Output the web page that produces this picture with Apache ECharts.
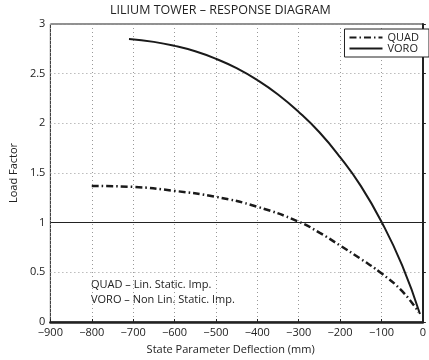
<!DOCTYPE html>
<html><head><meta charset="utf-8">
<script src="https://cdn.jsdelivr.net/npm/echarts@6/dist/echarts.min.js"></script>
<style>html,body{margin:0;padding:0;background:#fff}#c{width:429px;height:360px}</style>
</head><body><div id="c"></div>
<script>
const quadX = [-800, -700, -600, -500, -400, -300, -250, -200, -150, -100, -50, -10];
const quadY = [1.37, 1.36, 1.32, 1.26, 1.16, 1.01, 0.90, 0.77, 0.635, 0.49, 0.31, 0.10];
const voroX = [-710, -650, -600, -550, -500, -450, -400, -350, -300, -250, -200, -150, -100, -50, -7];
const voroY = [2.85, 2.82, 2.78, 2.725, 2.65, 2.555, 2.435, 2.29, 2.115, 1.91, 1.66, 1.37, 1.01, 0.57, 0.08];
const refLine = 1;
const notes = ['QUAD \u2013 Lin. Static. Imp.', 'VORO \u2013 Non Lin. Static. Imp.'];

const font = '"Open Sans", "Liberation Sans", sans-serif';
const chart = echarts.init(document.getElementById('c'), null, {renderer: 'canvas'});
const zip = (xs, ys) => xs.map((x, i) => [x, ys[i]]);
chart.setOption({
  animation: false,
  textStyle: {fontFamily: font},
  title: {text: 'LILIUM TOWER \u2013 RESPONSE DIAGRAM', left: 110, top: 4, padding: 0,
    textStyle: {fontSize: 12.5, fontWeight: 'normal', color: '#222', fontFamily: font}},
  grid: {left: 49.5, top: 24, width: 381, bottom: 36, containLabel: false,
    show: true, borderColor: '#222', borderWidth: 1},
  legend: {
    orient: 'vertical', right: 0, top: 29, itemWidth: 33, itemHeight: 9, itemGap: 0,
    padding: [3, 10, 3, 4], backgroundColor: '#fff', borderColor: '#222', borderWidth: 1,
    textStyle: {fontSize: 11, color: '#222', fontFamily: font, lineHeight: 10},
    itemStyle: {color: 'rgba(0,0,0,0)', borderWidth: 0, opacity: 0},
    data: ['QUAD', 'VORO']
  },
  xAxis: {
    type: 'value', min: -900, max: 0, interval: 100,
    name: 'State Parameter Deflection (mm)', nameLocation: 'middle', nameGap: 22,
    nameTextStyle: {fontSize: 11, color: '#222', padding: [0, 12, 0, 0]},
    axisLine: {lineStyle: {color: '#222', width: 2.5}},
    axisTick: {inside: true, length: 3, lineStyle: {color: '#222'}},
    axisLabel: {fontSize: 11, color: '#222', margin: 5, formatter: v => String(v).replace('-', '\u2212')},
    splitLine: {show: true, lineStyle: {color: '#999', type: [1, 3], width: 1}}
  },
  yAxis: {
    type: 'value', min: 0, max: 3, interval: 0.5,
    name: 'Load Factor', nameLocation: 'middle', nameGap: 27,
    nameTextStyle: {fontSize: 11, color: '#222'},
    axisLine: {show: true, lineStyle: {color: '#222', width: 2}},
    axisTick: {show: true, inside: true, length: 3, lineStyle: {color: '#222'}},
    axisLabel: {fontSize: 11, color: '#222', margin: 5},
    splitLine: {show: true, lineStyle: {color: '#999', type: [1, 3], width: 1}}
  },
  series: [
    {name: 'QUAD', type: 'line', data: zip(quadX, quadY), smooth: 0.5, symbol: 'none',
      lineStyle: {color: '#1a1a1a', width: 2.5, type: [7, 3, 1.5, 3]}, itemStyle: {color: '#1a1a1a'},
      markLine: {silent: true, symbol: 'none', label: {show: false},
        lineStyle: {color: '#222', width: 1, type: 'solid'}, data: [{yAxis: refLine}]}},
    {name: 'VORO', type: 'line', data: zip(voroX, voroY), smooth: 0.5, symbol: 'none',
      lineStyle: {color: '#1a1a1a', width: 2, type: 'solid'}, itemStyle: {color: '#1a1a1a'}}
  ],
  graphic: notes.map((t, i) => ({type: 'text', left: 91, top: 279 + i * 15,
    style: {text: t, fontSize: 11, fill: '#222', fontFamily: font}}))
});
</script></body></html>
